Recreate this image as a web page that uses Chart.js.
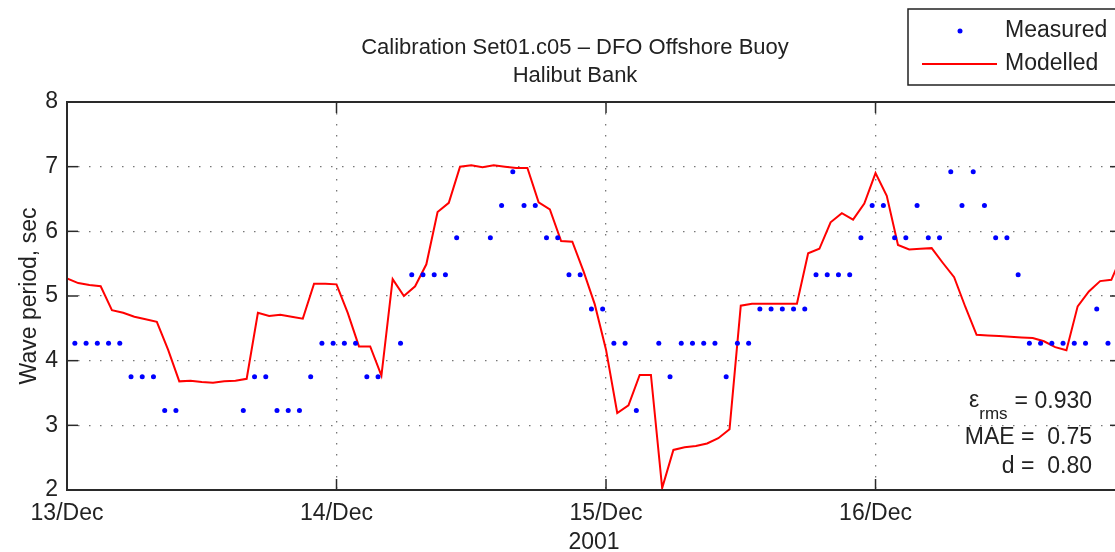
<!DOCTYPE html>
<html><head><meta charset="utf-8">
<script src="https://cdn.jsdelivr.net/npm/chart.js@4.4.1/dist/chart.umd.min.js"></script>
<style>html,body{margin:0;padding:0;background:#fff;overflow:hidden;width:1115px;height:552px;}#wrap{width:1125px;height:552px;position:relative;}</style>
</head><body><div id="wrap"><canvas id="c"></canvas></div>
<script>
const titleLines = ['Calibration Set01.c05 \u2013 DFO Offshore Buoy', 'Halibut Bank'];
const xTickHours = [0, 24, 48, 72];
const xTickLabels = ['13/Dec', '14/Dec', '15/Dec', '16/Dec'];
const xAxisLabel = '2001';
const yAxisLabel = 'Wave period, sec';
const yTicks = [2, 3, 4, 5, 6, 7, 8];
const seriesNames = ['Measured', 'Modelled'];
const statText = { eps: '\u03b5', sub: 'rms', epsVal: '= 0.930', mae: 'MAE =  0.75', d: 'd =  0.80' };

// hours after 13/Dec 00:00
const measuredHours = [0.7,1.7,2.7,3.7,4.7,5.7,6.7,7.7,8.7,9.7,
  15.7,16.7,17.7,18.7,19.7,20.7,21.7,22.7,23.7,24.7,25.7,26.7,27.7,
  29.7,30.7,31.7,32.7,33.7,34.7,
  37.7,38.7,39.7,40.7,41.7,42.7,43.7,44.7,45.7,46.7,47.7,48.7,49.7,50.7,
  52.7,53.7,54.7,55.7,56.7,57.7,58.7,59.7,60.7,61.7,62.7,63.7,64.7,65.7,66.7,67.7,68.7,69.7,
  70.7,71.7,72.7,73.7,74.7,75.7,76.7,77.7,78.7,79.7,80.7,81.7,82.7,83.7,84.7,85.7,86.7,87.7,
  88.7,89.7,90.7,91.7,92.7];
const measuredValues = [4.27,4.27,4.27,4.27,4.27,3.75,3.75,3.75,3.23,3.23,
  3.23,3.75,3.75,3.23,3.23,3.23,3.75,4.27,4.27,4.27,4.27,3.75,3.75,
  4.27,5.33,5.33,5.33,5.33,5.9,
  5.9,6.4,6.92,6.4,6.4,5.9,5.9,5.33,5.33,4.8,4.8,4.27,4.27,3.23,
  4.27,3.75,4.27,4.27,4.27,4.27,3.75,4.27,4.27,4.8,4.8,4.8,4.8,4.8,5.33,5.33,5.33,5.33,
  5.9,6.4,6.4,5.9,5.9,6.4,5.9,5.9,6.92,6.4,6.92,6.4,5.9,5.9,5.33,4.27,4.27,4.27,
  4.27,4.27,4.27,4.8,4.27];

const modelledHours = [0,1,2,3,4,5,6,7,8,9,10,11,12,13,14,15,16,17,18,19,20,21,22,23,24,
  25,26,27,28,29,30,31,32,33,34,35,36,37,38,39,40,41,42,43,44,45,46,47,48,
  49,50,51,52,53,54,55,56,57,58,59,60,61,62,63,64,65,66,67,68,69,70,71,72,
  73,74,75,76,77,78,79,80,81,82,83,84,85,86,87,88,89,90,91,92,93,94];
const modelledValues = [5.27,5.20,5.17,5.15,4.78,4.74,4.68,4.64,4.60,4.17,
  3.68,3.69,3.67,3.66,3.68,3.69,3.72,4.74,4.69,4.71,
  4.68,4.65,5.19,5.19,5.18,4.74,4.22,4.22,3.77,5.26,
  5.00,5.15,5.49,6.30,6.44,7.00,7.02,6.99,7.02,7.00,
  6.98,6.98,6.45,6.34,5.85,5.84,5.38,4.87,4.17,3.19,
  3.31,3.78,3.78,2.03,2.62,2.66,2.68,2.72,2.80,2.94,
  4.85,4.88,4.88,4.88,4.88,4.88,5.66,5.73,6.14,6.28,
  6.18,6.43,6.90,6.55,5.79,5.72,5.73,5.74,5.51,5.29,
  4.83,4.40,4.39,4.38,4.37,4.36,4.35,4.30,4.21,4.16,
  4.84,5.07,5.23,5.25,5.65];

const FONT = '"Liberation Sans", Arial, Helvetica, sans-serif';
const TXT = '#222';
const FS = 23;
const FT = 22;

const measuredPts = measuredHours.map((h, i) => ({ x: h, y: measuredValues[i] }));
const modelledPts = modelledHours.map((h, i) => ({ x: h, y: modelledValues[i] }));

const framePlugin = {
  id: 'frame',
  afterDatasetsDraw(chart) {
    const { ctx, chartArea: a, scales: { x, y } } = chart;
    ctx.save();
    const ln = (x1, y1, x2, y2) => { ctx.beginPath(); ctx.moveTo(x1, y1); ctx.lineTo(x2, y2); ctx.stroke(); };
    ctx.strokeStyle = '#2a2a2a';
    ctx.lineWidth = 1.5;
    yTicks.forEach(v => { const py = y.getPixelForValue(v); ln(a.left, py, a.left + 11, py); ln(a.right, py, a.right - 11, py); });
    xTickHours.forEach(h => { const px = x.getPixelForValue(h); ln(px, a.bottom, px, a.bottom - 11); ln(px, a.top, px, a.top + 11); });
    ctx.lineWidth = 2;
    ctx.strokeRect(a.left, a.top, a.right - a.left, a.bottom - a.top);
    ctx.restore();
  },
  afterDraw(chart) {
    const { ctx } = chart;
    const ds = chart.data.datasets;
    ctx.save();
    ctx.fillStyle = TXT;
    ctx.font = FT + 'px ' + FONT;
    ctx.textAlign = 'center';
    ctx.textBaseline = 'middle';
    ctx.fillText(titleLines[0], 575, 48);
    ctx.fillText(titleLines[1], 575, 76);
    // legend
    ctx.font = FS + 'px ' + FONT;
    ctx.fillStyle = '#fff';
    ctx.fillRect(908, 9, 230, 76);
    ctx.strokeStyle = '#222';
    ctx.lineWidth = 1.5;
    ctx.strokeRect(908, 9, 230, 76);
    ctx.fillStyle = ds[0].pointBackgroundColor;
    ctx.beginPath(); ctx.arc(960, 31, ds[0].pointRadius, 0, Math.PI * 2); ctx.fill();
    ctx.strokeStyle = ds[1].borderColor;
    ctx.lineWidth = ds[1].borderWidth;
    ctx.beginPath(); ctx.moveTo(922, 64); ctx.lineTo(997, 64); ctx.stroke();
    ctx.fillStyle = TXT;
    ctx.textAlign = 'left';
    ctx.fillText(ds[0].label, 1005, 31);
    ctx.fillText(ds[1].label, 1005, 64);
    // statistics
    ctx.textAlign = 'right';
    const xr = 1092;
    ctx.fillText(statText.epsVal, xr, 402);
    const w = ctx.measureText(statText.epsVal).width;
    ctx.font = '17px ' + FONT;
    const ws = ctx.measureText(statText.sub).width;
    ctx.fillText(statText.sub, xr - w - 7, 414);
    ctx.font = FS + 'px ' + FONT;
    ctx.fillText(statText.eps, xr - w - 7 - ws, 401);
    ctx.fillText(statText.mae, xr, 438);
    ctx.fillText(statText.d, xr, 467);
    ctx.restore();
  }
};

new Chart(document.getElementById('c'), {
  type: 'scatter',
  data: {
    datasets: [
      { label: seriesNames[0], data: measuredPts, showLine: false, pointRadius: 2.5, pointHoverRadius: 2.5,
        pointBackgroundColor: '#0000ff', pointBorderWidth: 0, borderColor: '#0000ff' },
      { label: seriesNames[1], data: modelledPts, showLine: true, pointRadius: 0, pointHoverRadius: 0,
        borderColor: '#ff0000', borderWidth: 2, tension: 0, backgroundColor: '#ff0000' }
    ]
  },
  options: {
    responsive: true, maintainAspectRatio: false, animation: false,
    events: [],
    layout: { padding: { top: 102, left: 0, right: 4, bottom: 0 } },
    plugins: { legend: { display: false }, title: { display: false }, tooltip: { enabled: false } },
    scales: {
      x: {
        type: 'linear', min: 0, max: 93.86,
        afterBuildTicks: s => { s.ticks = xTickHours.map(v => ({ value: v })); },
        afterFit: s => { s.height = 62; },
        ticks: { autoSkip: false, maxRotation: 0, padding: 10, color: TXT, font: { family: FONT, size: FS },
          callback: v => { const i = xTickHours.indexOf(v); return i >= 0 ? xTickLabels[i] : ''; } },
        grid: { color: '#777', lineWidth: 1.3, drawTicks: false },
        border: { display: false, dash: [1.5, 9.5] },
        title: { display: true, text: xAxisLabel, color: TXT, font: { family: FONT, size: FS }, padding: { top: 0, bottom: -4 } }
      },
      y: {
        min: 2, max: 8,
        afterBuildTicks: s => { s.ticks = yTicks.map(v => ({ value: v })); },
        afterFit: s => { s.width = 67; },
        ticks: { padding: 9, color: TXT, font: { family: FONT, size: FS } },
        grid: { color: '#777', lineWidth: 1.3, drawTicks: false },
        border: { display: false, dash: [1.5, 9.5] },
        title: { display: true, text: yAxisLabel, color: TXT, font: { family: FONT, size: FS }, padding: { top: 16, bottom: 0 } }
      }
    }
  },
  plugins: [framePlugin]
});
</script></body></html>
